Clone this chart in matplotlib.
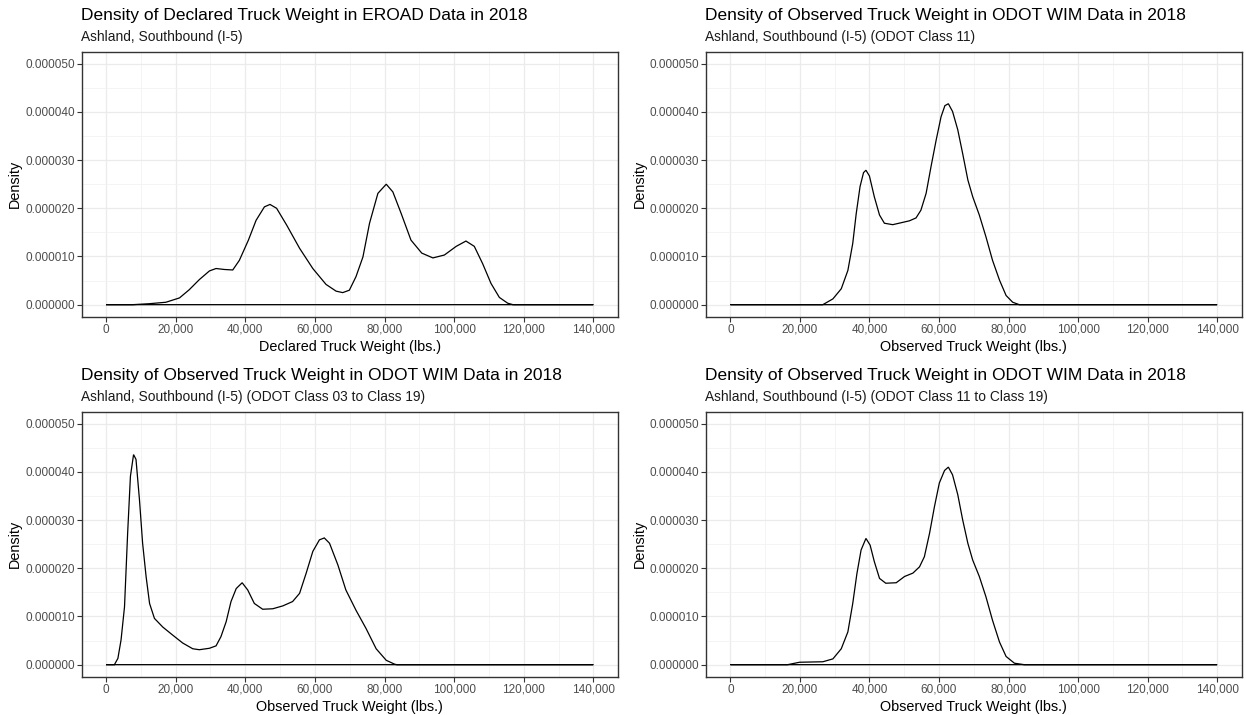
import matplotlib
matplotlib.use("Agg")
import matplotlib.pyplot as plt
from matplotlib.ticker import FuncFormatter, MultipleLocator

plt.rcParams['font.family'] = ['Liberation Sans', 'DejaVu Sans']

# ---------------- data (weights in 1000 lbs, density in 1e-5) ----------------
eroad_x = [7.7, 12.5, 17.2, 21.1, 23.9, 26.8, 29.7, 31.6, 34.0, 36.4, 38.3, 40.9, 43.1, 45.5,
           47.1, 49.0, 51.9, 55.6, 59.4, 63.2, 66.1, 68.0, 69.9, 71.8, 73.8, 75.7, 78.1,
           80.5, 82.4, 84.8, 87.6, 90.7, 93.9, 97.2, 100.6, 103.4, 105.8, 108.2, 110.6,
           113.0, 115.4, 116.9]
eroad_y = [0.0, 0.02, 0.05, 0.14, 0.31, 0.52, 0.70, 0.75, 0.73, 0.72, 0.92, 1.34, 1.75, 2.03,
           2.08, 2.00, 1.65, 1.17, 0.75, 0.42, 0.28, 0.25, 0.30, 0.58, 0.99, 1.69, 2.31,
           2.50, 2.34, 1.89, 1.34, 1.07, 0.97, 1.03, 1.21, 1.32, 1.21, 0.85, 0.44,
           0.15, 0.03, 0.0]

c11_x = [26.6, 29.5, 31.9, 33.8, 35.2, 36.2, 37.3, 38.3, 39.0, 40.0, 41.4, 42.9, 44.3, 46.7,
         49.1, 51.5, 53.4, 54.8, 56.3, 57.7, 59.2, 60.6, 61.7, 62.7, 63.9, 65.4, 66.8,
         68.3, 69.7, 71.6, 73.5, 75.4, 77.4, 79.3, 81.2, 83.1]
c11_y = [0.0, 0.12, 0.33, 0.71, 1.27, 1.89, 2.45, 2.74, 2.79, 2.67, 2.24, 1.86, 1.69, 1.66,
         1.70, 1.74, 1.80, 1.96, 2.31, 2.86, 3.42, 3.90, 4.13, 4.17, 4.01, 3.63, 3.14,
         2.59, 2.24, 1.86, 1.41, 0.92, 0.51, 0.19, 0.05, 0.0]

c03_19_x = [2.4, 3.4, 4.3, 5.3, 6.2, 7.0, 7.9, 8.6, 9.6, 10.5, 11.5, 12.5, 13.9, 16.3, 19.2,
            22.0, 24.9, 26.8, 29.7, 31.6, 33.0, 34.5, 35.9, 37.4, 39.1, 40.7, 42.6, 45.0,
            47.9, 50.8, 53.6, 55.6, 57.5, 59.4, 61.3, 62.7, 64.2, 66.6, 68.9, 71.8, 74.7,
            77.6, 80.5, 82.9, 83.5]
c03_19_y = [0.0, 0.13, 0.51, 1.20, 2.73, 3.91, 4.36, 4.26, 3.42, 2.52, 1.83, 1.27, 0.96, 0.78,
            0.61, 0.45, 0.33, 0.31, 0.34, 0.39, 0.58, 0.89, 1.31, 1.58, 1.70, 1.55, 1.27,
            1.15, 1.16, 1.22, 1.31, 1.48, 1.90, 2.35, 2.59, 2.63, 2.52, 2.07, 1.55, 1.13,
            0.75, 0.33, 0.09, 0.01, 0.0]

c11_19_x = [16.5, 19.9, 26.6, 29.5, 31.9, 33.8, 35.2, 36.4, 37.6, 39.0, 40.2, 41.4, 42.9, 44.7,
            47.7, 50.1, 52.5, 54.4, 55.8, 57.3, 58.7, 60.1, 61.6, 62.7, 63.9, 65.4, 66.8,
            68.3, 69.7, 71.6, 73.5, 75.4, 77.4, 79.3, 81.7, 84.5]
c11_19_y = [0.0, 0.05, 0.06, 0.12, 0.33, 0.68, 1.27, 1.89, 2.38, 2.62, 2.48, 2.14, 1.79, 1.69,
            1.70, 1.83, 1.90, 2.03, 2.24, 2.73, 3.28, 3.77, 4.03, 4.10, 3.94, 3.53, 3.01,
            2.52, 2.17, 1.83, 1.41, 0.92, 0.47, 0.17, 0.03, 0.0]

titles = ["Density of Declared Truck Weight in EROAD Data in 2018",
          "Density of Observed Truck Weight in ODOT WIM Data in 2018",
          "Density of Observed Truck Weight in ODOT WIM Data in 2018",
          "Density of Observed Truck Weight in ODOT WIM Data in 2018"]
subtitles = ["Ashland, Southbound (I-5)",
             "Ashland, Southbound (I-5) (ODOT Class 11)",
             "Ashland, Southbound (I-5) (ODOT Class 03 to Class 19)",
             "Ashland, Southbound (I-5) (ODOT Class 11 to Class 19)"]
xlabels = ["Declared Truck Weight (lbs.)", "Observed Truck Weight (lbs.)",
           "Observed Truck Weight (lbs.)", "Observed Truck Weight (lbs.)"]
ylabel = "Density"
x_range = [0, 140000]
x_ticks = [0, 20000, 40000, 60000, 80000, 100000, 120000, 140000]
y_ticks = [0.0, 0.00001, 0.00002, 0.00003, 0.00004, 0.00005]

series = [(eroad_x, eroad_y), (c11_x, c11_y), (c03_19_x, c03_19_y), (c11_19_x, c11_19_y)]

# ---------------- figure ----------------
W, H = 1246, 715
fig = plt.figure(figsize=(W / 100, H / 100), dpi=100)

# panel boxes in pixel coordinates (left, top, right, bottom)
boxes = [(81.7, 51.7, 617.7, 316.7), (706, 51.7, 1241.5, 316.7),
         (81.7, 411.7, 617.7, 676.7), (706, 411.7, 1241.5, 676.7)]

border_c = '#333333'
grid_c = '#EBEBEB'
tick_c = '#4D4D4D'

for i, ((l, t, r, b), (sx, sy)) in enumerate(zip(boxes, series)):
    ax = fig.add_axes([l / W, 1 - b / H, (r - l) / W, (b - t) / H])
    xs = [x_range[0]] + [v * 1000 for v in sx] + [x_range[1]]
    ys = [0.0] + [v * 1e-5 for v in sy] + [0.0]
    ax.fill(xs, ys, facecolor='none', edgecolor='black', linewidth=0.9, zorder=3)

    span = x_range[1] - x_range[0]
    ax.set_xlim(x_range[0] - 0.05 * span, x_range[1] + 0.05 * span)
    ax.set_ylim(-0.05 * 0.00005, 0.00005 * 1.05)

    ax.set_xticks(x_ticks)
    ax.xaxis.set_minor_locator(MultipleLocator(10000))
    ax.set_yticks(y_ticks)
    ax.yaxis.set_minor_locator(MultipleLocator(0.000005))
    ax.xaxis.set_major_formatter(FuncFormatter(lambda v, p: f"{int(round(v)):,}"))
    ax.yaxis.set_major_formatter(FuncFormatter(lambda v, p: f"{v:.6f}"))

    ax.grid(which='major', color=grid_c, linewidth=0.9, zorder=0)
    ax.grid(which='minor', color='#F2F2F2', linewidth=0.6, zorder=0)
    ax.set_axisbelow(True)
    for s in ax.spines.values():
        s.set_color(border_c)
        s.set_linewidth(1.0)
    ax.tick_params(which='major', length=3.5, width=0.8, color=border_c,
                   labelsize=8.5, labelcolor=tick_c, pad=1.5)
    ax.tick_params(which='minor', length=0)

    ax.set_xlabel(xlabels[i], fontsize=10.4, color='black', labelpad=3)
    ax.set_ylabel(ylabel, fontsize=10.4, color='black', labelpad=2)

    # title + subtitle left aligned with panel
    fig.text((l - 1) / W, 1 - (t - 36.5) / H, titles[i], fontsize=12.5, color='black',
             ha='left', va='center')
    fig.text((l - 1) / W, 1 - (t - 14.5) / H, subtitles[i], fontsize=9.9, color='#1A1A1A',
             ha='left', va='center')

fig.savefig("out.png", dpi=100, facecolor='white')
